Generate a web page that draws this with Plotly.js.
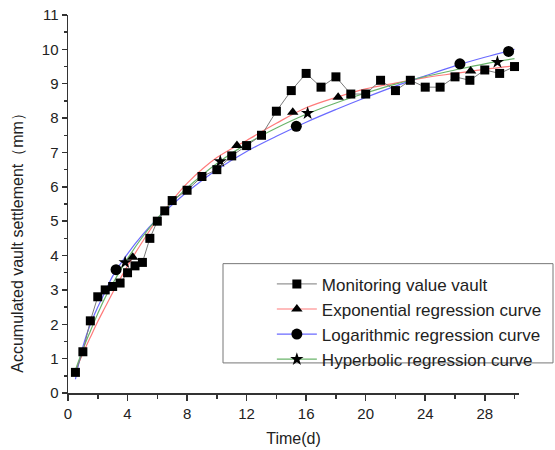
<!DOCTYPE html>
<html>
<head>
<meta charset="utf-8">
<script src="https://cdn.plot.ly/plotly-3.0.1.min.js"></script>
<style>html,body{margin:0;padding:0;background:#fff;}#chart{width:555px;height:450px;}</style>
</head>
<body>
<div id="chart"></div>
<script>
// Monitoring values
var monX = [0.5,1,1.5,2,2.5,3,3.5,4,4.5,5,5.5,6,6.5,7,8,9,10,11,12,13,14,15,16,17,18,19,20,21,22,23,24,25,26,27,28,29,30];
var monY = [0.6,1.2,2.1,2.8,3.0,3.1,3.2,3.5,3.7,3.8,4.5,5.0,5.3,5.6,5.9,6.3,6.5,6.9,7.2,7.5,8.2,8.8,9.3,8.9,9.2,8.7,8.7,9.1,8.8,9.1,8.9,8.9,9.2,9.1,9.4,9.3,9.5];

// Regression curves
var curveX = [0.5,1,1.5,2,2.5,3,4,5,6,7,8,10,12,14,16,18,20,22,24,26,28,30];
var expY   = [0.65,1.15,1.62,2.08,2.5,2.92,3.7,4.4,5.05,5.6,6.1,6.85,7.35,7.85,8.3,8.6,8.85,9.02,9.18,9.3,9.42,9.52];
var logY   = [0.4,1.35,2.0,2.5,2.95,3.4,4.05,4.6,5.07,5.48,5.85,6.5,7.03,7.47,7.88,8.25,8.6,8.93,9.23,9.52,9.77,10.0];
var hypY   = [0.67,1.27,1.8,2.31,2.78,3.18,3.91,4.54,5.08,5.55,5.97,6.68,7.25,7.71,8.11,8.44,8.73,8.99,9.21,9.4,9.58,9.73];

// Markers on regression curves
var expMX = [4.35,11.35,15.1,18.15,27.05];
var expMY = [3.95,7.2,8.17,8.61,9.37];
var logMX = [3.23,15.34,26.33,29.6];
var logMY = [3.59,7.76,9.58,9.94];
var hypMX = [3.84,10.23,16.1,28.85];
var hypMY = [3.8,6.74,8.14,9.63];

var names = ['Monitoring value vault','Exponential regression curve','Logarithmic regression curve','Hyperbolic regression curve'];

var xTicks = [0,4,8,12,16,20,24,28];
var yTicks = [0,1,2,3,4,5,6,7,8,9,10,11];

var cRed = '#ff7a7a', cBlue = '#6a6aff', cGreen = '#6ab46a', cGray = '#7a7a7a';
var font = 'Liberation Sans, Arial, sans-serif';

var traces = [
  {x: curveX, y: expY, mode: 'lines', line: {color: cRed, width: 1.2, shape: 'spline'}, showlegend: false, hoverinfo: 'skip'},
  {x: curveX, y: logY, mode: 'lines', line: {color: cBlue, width: 1.2, shape: 'spline'}, showlegend: false, hoverinfo: 'skip'},
  {x: curveX, y: hypY, mode: 'lines', line: {color: cGreen, width: 1.2, shape: 'spline'}, showlegend: false, hoverinfo: 'skip'},
  {x: expMX, y: expMY, mode: 'markers', marker: {symbol: 'triangle-up', size: 10, color: '#000'}, showlegend: false},
  {x: logMX, y: logMY, mode: 'markers', marker: {symbol: 'circle', size: 11, color: '#000'}, showlegend: false},
  {x: hypMX, y: hypMY, mode: 'markers', marker: {symbol: 'star', size: 10, color: '#000'}, showlegend: false},
  {x: monX, y: monY, name: names[0], mode: 'lines+markers', line: {color: cGray, width: 1}, marker: {symbol: 'square', size: 9, color: '#000'}},
  {x: [null], y: [null], name: names[1], mode: 'lines+markers', line: {color: cRed, width: 1.2}, marker: {symbol: 'triangle-up', size: 10, color: '#000'}},
  {x: [null], y: [null], name: names[2], mode: 'lines+markers', line: {color: cBlue, width: 1.2}, marker: {symbol: 'circle', size: 11, color: '#000'}},
  {x: [null], y: [null], name: names[3], mode: 'lines+markers', line: {color: cGreen, width: 1.2}, marker: {symbol: 'star', size: 10, color: '#000'}}
];

var layout = {
  width: 555, height: 450,
  margin: {l: 68, r: 36, t: 15, b: 57, autoexpand: false},
  paper_bgcolor: '#fff', plot_bgcolor: '#fff',
  font: {family: font, color: '#222', size: 15},
  showlegend: true,
  xaxis: {
    range: [0, 30.3], tickvals: xTicks, ticktext: xTicks.map(String),
    showgrid: false, zeroline: false, showline: true, linecolor: '#333', linewidth: 1.5,
    ticks: 'outside', ticklen: 6, tickwidth: 1.5, tickcolor: '#333',
    minor: {dtick: 2, ticks: 'outside', ticklen: 4, tickwidth: 1.5, tickcolor: '#333', showgrid: false},
    tickfont: {size: 15, color: '#222'},
    title: {text: 'Time(d)', font: {size: 16, color: '#222'}, standoff: 12}
  },
  yaxis: {
    range: [0, 11], tickvals: yTicks, ticktext: yTicks.map(String),
    showgrid: false, zeroline: false, showline: true, linecolor: '#333', linewidth: 1.5,
    ticks: 'outside', ticklen: 5, tickwidth: 1.5, tickcolor: '#333',
    minor: {dtick: 0.5, ticks: 'outside', ticklen: 3, tickwidth: 1.5, tickcolor: '#333', showgrid: false},
    tickfont: {size: 15, color: '#222'}
  },
  legend: {
    x: 0.452, y: 0.335, xanchor: 'left', yanchor: 'top',
    bgcolor: 'rgba(0,0,0,0)', borderwidth: 0,
    font: {size: 17, color: '#222', family: font},
    itemwidth: 40,
    tracegroupgap: 0
  },
  shapes: [
    {type: 'rect', xref: 'paper', yref: 'paper', x0: 0.3437, x1: 1.0754, y0: 0.0796, y1: 0.3422,
     line: {color: '#777', width: 1}, fillcolor: 'rgba(0,0,0,0)', layer: 'below'}
  ],
  annotations: [
    {text: 'Accumulated vault settlement（mm）', xref: 'paper', yref: 'paper', x: -0.111, y: 0.408,
     textangle: -90, showarrow: false, xanchor: 'center', yanchor: 'middle',
     font: {size: 16, color: '#222', family: font}}
  ]
};

Plotly.newPlot('chart', traces, layout, {displayModeBar: false, staticPlot: true});
</script>
</body>
</html>
